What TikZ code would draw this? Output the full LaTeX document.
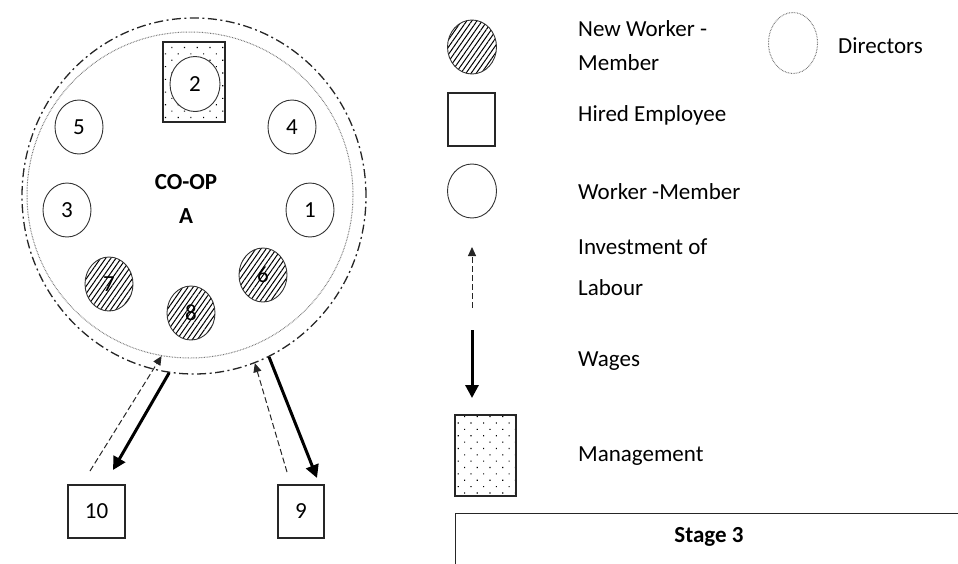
\documentclass[tikz,border=0pt]{standalone}
\usepackage{fontspec}
\setmainfont{Carlito}
\usetikzlibrary{patterns.meta,arrows.meta,shapes.geometric}
\begin{document}
\begin{tikzpicture}[x=1pt,y=-1pt,
  font=\fontsize{23}{26}\selectfont,
  member/.style={ellipse,draw=black!80,line width=0.9pt,minimum width=48pt,minimum height=54pt,inner sep=0pt},
  newmember/.style={member,pattern={Lines[angle=55,distance=4.2pt,line width=1pt]}},
  hired/.style={rectangle,draw=black!85,line width=1.1pt,inner sep=0pt},
  mgmt/.style={rectangle,draw=black!85,line width=1.1pt,inner sep=0pt,pattern={Dots[angle=45,distance=9pt,radius=0.8pt]}},
  dirring/.style={ellipse,draw=black!55,line width=1pt,dash pattern=on 0.7pt off 0.9pt,inner sep=0pt},
  coopring/.style={ellipse,draw=black!85,line width=1.3pt,dash pattern=on 9pt off 3.5pt on 2pt off 3.5pt,inner sep=0pt},
  labour/.style={draw=black!85,line width=1pt,dash pattern=on 6pt off 3pt,-{Triangle[length=9pt,width=8pt]}},
  wages/.style={draw=black,line width=3pt,-{Triangle[length=13pt,width=13pt]}},
  lbl/.style={inner sep=0pt,anchor=west,align=left},
]
\useasboundingbox (0,0) rectangle (958,563);

% co-op rings
\node[coopring,minimum width=344pt,minimum height=356pt] (coop) at (194,196) {};
\node[dirring,minimum width=326pt,minimum height=326pt] (dir) at (190,195) {};

% management box with member 2
\node[mgmt,minimum width=62pt,minimum height=80pt] (mg) at (194,82) {};
\node[member,fill=white,minimum width=50pt,minimum height=55pt] (m2) at (195,84) {2};

\node[member] (m5) at (79,127) {5};
\node[member] (m4) at (292,127) {4};
\node[member] (m3) at (67,210) {3};
\node[member] (m1) at (310,210) {1};
\node[newmember] (m7) at (109,284) {7};
\node[newmember] (m8) at (191,313) {8};
\node[newmember] (m6) at (263,275) {6};

\node[font=\fontsize{23}{26}\selectfont\bfseries,align=center,inner sep=0pt] (title) at (186,199) {CO-OP\\[8pt]A};

% hired employees
\node[hired,minimum width=57pt,minimum height=53pt] (h10) at (96.5,511.5) {10};
\node[hired,minimum width=46pt,minimum height=53pt] (h9) at (301,511.5) {9};

\coordinate (l10) at (90,471);
\coordinate (w10) at (113,470);
\coordinate (l9) at (287,472);
\coordinate (w9) at (317,478);

\draw[labour] (l10) -- (dir.-100);
\draw[wages] (coop.-98) -- (w10);
\draw[labour] (l9) -- (coop.-70);
\draw[wages] (coop.-65) -- (w9);

% legend
\node[newmember,minimum width=49pt] (lnew) at (472,47) {};
\node[lbl] (tnew) at (578,46) {New Worker -\\[8pt]Member};
\node[dirring,minimum width=49pt,minimum height=61pt] (ldir) at (793,43) {};
\node[lbl] (tdir) at (838,46) {Directors};
\node[hired,minimum width=47pt,minimum height=53pt] (lhired) at (471.5,119.5) {};
\node[lbl] (thired) at (578,115) {Hired Employee};
\node[member,minimum width=49pt] (lwm) at (472,191) {};
\node[lbl] (twm) at (578,192) {Worker -Member};
\coordinate (inva) at (472,308);
\coordinate (invb) at (472,247);
\draw[labour] (inva) -- (invb);
\node[lbl] (tinv) at (578,267) {Investment of\\[15pt]Labour};
\coordinate (waga) at (472,330);
\coordinate (wagb) at (472,398);
\draw[wages] (waga) -- (wagb);
\node[lbl] (twag) at (578,361) {Wages};
\node[mgmt,minimum width=61pt,minimum height=81pt] (lmg) at (485.5,455.5) {};
\node[lbl] (tmg) at (578,456) {Management};

% stage box
\draw[line width=1pt,draw=black!85] (455,600) -- (455,513) -- (962,513);
\node[font=\fontsize{23}{26}\selectfont\bfseries,inner sep=0pt] (stage) at (709,537) {Stage 3};
\end{tikzpicture}
\end{document}
